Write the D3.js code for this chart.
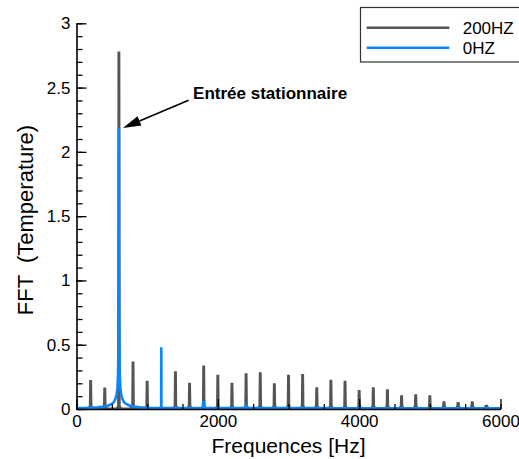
<!DOCTYPE html>
<html>
<head>
<meta charset="utf-8">
<script src="https://cdn.jsdelivr.net/npm/d3@7/dist/d3.min.js"></script>
<style>
  html, body { margin: 0; padding: 0; background: #fff; }
  svg { display: block; }
  text { font-family: "Liberation Sans", Arial, Helvetica, sans-serif; fill: #000; }
</style>
</head>
<body>
<svg id="chart" width="519" height="459"></svg>
<script>
// ---------------- data ----------------
// 200HZ series: harmonic peak frequencies (Hz) and amplitudes
const peakFreq200 = [200, 400, 600, 800, 1000, 1400, 1600, 1800, 2000, 2200, 2400, 2600, 2800,
                     3000, 3200, 3400, 3600, 3800, 4000, 4200, 4400, 4600, 4800, 5000, 5200, 5400, 5600, 5800];
const peakAmp200  = [0.226, 0.168, 2.78, 0.37, 0.22, 0.293, 0.205, 0.338, 0.266, 0.205, 0.279, 0.285, 0.2,
                     0.266, 0.272, 0.17, 0.227, 0.219, 0.148, 0.17, 0.154, 0.106, 0.114, 0.106, 0.06, 0.055, 0.06, 0.033];
// 0HZ series: spectrum points (Hz, amplitude)
const freq0 = [0, 150, 300, 400, 450, 500, 530, 555, 570, 580, 588, 594, 598, 600, 602, 606, 612, 620, 630, 645, 670, 700,
               750, 800, 900, 1000, 1100, 1198, 1200, 1202, 1400, 1785, 1795, 1800, 1805, 1815, 2000, 2388, 2396, 2400,
               2404, 2412, 3000, 3595, 3600, 3605, 4500, 6000];
const amp0  = [0.008, 0.01, 0.013, 0.02, 0.027, 0.04, 0.055, 0.085, 0.12, 0.17, 0.27, 0.5, 1.1, 2.19, 1.1, 0.5, 0.27, 0.17,
               0.12, 0.085, 0.055, 0.04, 0.027, 0.02, 0.013, 0.01, 0.008, 0.008, 0.48, 0.008, 0.008, 0.008, 0.055, 0.06,
               0.055, 0.008, 0.008, 0.008, 0.028, 0.03, 0.028, 0.008, 0.008, 0.008, 0.014, 0.008, 0.006, 0.006];
const seriesNames = ["200HZ", "0HZ"];
const seriesColors = ["#555555", "#0a86fb"];
const xTicks = [0, 2000, 4000, 6000];
const yTicks = [0, 0.5, 1, 1.5, 2, 2.5, 3];
const xTitle = "Frequences [Hz]";
const yTitle = "FFT  (Temperature)";
const annotationText = "Entrée stationnaire";
const annotationAnchor = [1650, 2.41];   // text position (Hz, value)
const annotationTarget = [600, 2.19];    // arrow target (Hz, value)

// ---------------- layout ----------------
const svg = d3.select("#chart");
const x = d3.scaleLinear().domain([0, 6000]).range([76.5, 500.5]);
const y = d3.scaleLinear().domain([0, 3]).range([409, 23.3]);

// 200HZ peaks (drawn first, under blue)
const gPeaks = svg.append("g");
gPeaks.selectAll("path")
  .data(peakFreq200.map((f, i) => [f, peakAmp200[i]]))
  .join("path")
  .attr("fill", seriesColors[0])
  .attr("d", d => {
    const cx = x(d[0]), top = y(d[1]), base = y(0), flare = y(0.025);
    return `M${cx - 3.8},${base} L${cx - 1.8},${flare} L${cx - 1.45},${top} L${cx + 1.45},${top} L${cx + 1.8},${flare} L${cx + 3.8},${base} Z`;
  });

// 200HZ baseline
svg.append("path")
  .datum([[0, 0.005], [6000, 0.005]])
  .attr("fill", "none").attr("stroke", seriesColors[0]).attr("stroke-width", 1.5)
  .attr("d", d3.line().x(d => x(d[0])).y(d => y(d[1])));

// 0HZ line
svg.append("path")
  .datum(freq0.map((f, i) => [f, amp0[i]]))
  .attr("fill", "none").attr("stroke", seriesColors[1]).attr("stroke-width", 2.6)
  .attr("stroke-linejoin", "bevel")
  .attr("d", d3.line().x(d => x(d[0])).y(d => y(d[1])));

// ---------------- axes ----------------
const axisStyle = g => {
  g.selectAll(".domain").attr("stroke", "#000").attr("stroke-width", 1.6);
  g.selectAll(".tick line").attr("stroke", "#000").attr("stroke-width", 1.3);
  g.selectAll("text").attr("font-size", 17).attr("font-family", "'Liberation Sans', Arial, sans-serif").attr("fill", "#000");
};
// minor ticks
svg.append("g").attr("transform", `translate(0,${y(0)})`)
  .call(d3.axisBottom(x).tickValues(d3.range(0, 6001, 500)).tickSize(-5).tickSizeOuter(0).tickFormat(""))
  .call(axisStyle).call(g => g.select(".domain").remove());
svg.append("g").attr("transform", `translate(${x(0)},0)`)
  .call(d3.axisLeft(y).tickValues(d3.range(0, 31).map(v => v / 10)).tickSize(-6).tickSizeOuter(0).tickFormat(""))
  .call(axisStyle).call(g => g.select(".domain").remove());
// major ticks
svg.append("g").attr("transform", `translate(0,${y(0)})`)
  .call(d3.axisBottom(x).tickValues(xTicks).tickSize(-10).tickSizeOuter(0).tickPadding(6).tickFormat(d3.format("d")))
  .call(axisStyle);
svg.append("g").attr("transform", `translate(${x(0)},0)`)
  .call(d3.axisLeft(y).tickValues(yTicks).tickSize(-10).tickSizeOuter(0).tickPadding(6).tickFormat(d => String(d)))
  .call(axisStyle);

// axis titles
svg.append("text")
  .attr("x", (x(0) + x(6000)) / 2).attr("y", 452.5)
  .attr("text-anchor", "middle").attr("font-size", 21)
  .text(xTitle);
svg.append("text")
  .attr("transform", `translate(32.5,220) rotate(-90)`)
  .attr("text-anchor", "middle").attr("font-size", 22)
  .attr("xml:space", "preserve").style("white-space", "pre")
  .text(yTitle);

// ---------------- annotation ----------------
const tx = x(annotationAnchor[0]), ty = y(annotationAnchor[1]);
svg.append("text")
  .attr("x", tx).attr("y", ty)
  .attr("font-size", 17).attr("font-weight", "bold")
  .text(annotationText);
const tip = [x(annotationTarget[0]) + 4, y(annotationTarget[1]) + 0.5];
const tail = [tx - 4.5, ty + 1];
const ang = Math.atan2(tip[1] - tail[1], tip[0] - tail[0]);
const hl = 18, hw = 5;
const bx = tip[0] - hl * Math.cos(ang), by = tip[1] - hl * Math.sin(ang);
svg.append("line")
  .attr("x1", tail[0]).attr("y1", tail[1]).attr("x2", bx).attr("y2", by)
  .attr("stroke", "#000").attr("stroke-width", 1.6);
svg.append("path")
  .attr("fill", "#000")
  .attr("d", `M${tip[0]},${tip[1]} L${bx + hw * Math.sin(ang)},${by - hw * Math.cos(ang)} L${bx - hw * Math.sin(ang)},${by + hw * Math.cos(ang)} Z`);

// ---------------- legend ----------------
const lg = svg.append("g");
lg.append("rect").attr("x", 360.5).attr("y", 7.5).attr("width", 175).attr("height", 54.5)
  .attr("fill", "#fff").attr("stroke", "#333").attr("stroke-width", 1.2);
seriesNames.forEach((name, i) => {
  const ly = 27.7 + i * 20;
  lg.append("line").attr("x1", 366.7).attr("x2", 449.3).attr("y1", ly).attr("y2", ly)
    .attr("stroke", seriesColors[i]).attr("stroke-width", 2.6);
  lg.append("text").attr("x", 462.7).attr("y", ly).attr("dy", "0.35em")
    .attr("font-size", 17).text(name);
});
</script>
</body>
</html>
